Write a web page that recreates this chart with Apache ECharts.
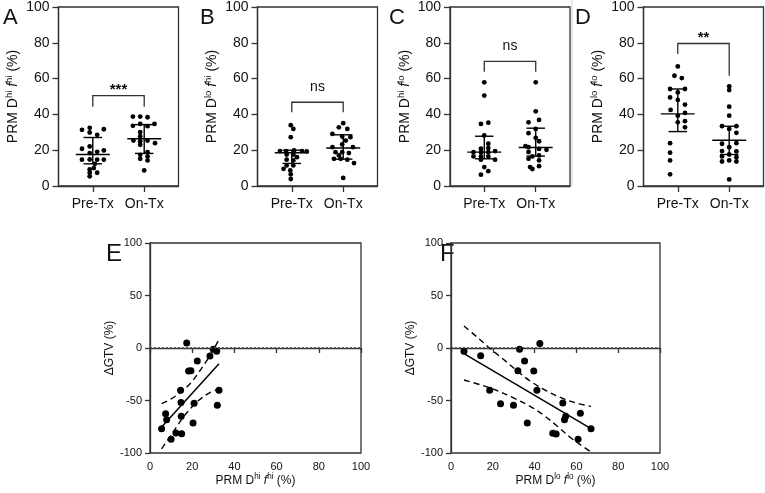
<!DOCTYPE html>
<html>
<head>
<meta charset="utf-8">
<script src="https://cdn.jsdelivr.net/npm/echarts@6/dist/echarts.min.js"></script>
<style>
  html, body { margin: 0; padding: 0; background: #fff; }
  #main { width: 765px; height: 493px; }
</style>
</head>
<body>
<div id="main"></div>
<script>
// ---- data ----
var groups = ['Pre-Tx', 'On-Tx']
var panelLetters = ['A', 'B', 'C', 'D', 'E', 'F']

// top row: dot values (%) and small horizontal jitter (in category units)
var aPre = [31.4, 32.5, 29.9, 28.6, 31.7, 20.8, 22.1, 19.1, 19.9, 18.4, 14.7, 14.8, 14.7, 14.7, 12.4, 9.3, 10.0, 7.4, 7.4, 5.4]
var aPreDx = [-0.21, -0.06, -0.06, 0.085, 0.215, -0.21, -0.06, 0.085, 0.215, -0.06, -0.21, -0.06, 0.085, 0.215, 0.04, -0.06, 0.02, -0.06, 0.085, -0.06]
var aOn = [38.8, 38.8, 38.4, 33.6, 34.7, 33.4, 34.7, 30.1, 27.8, 25.4, 25.0, 25.4, 23.9, 23.0, 18.9, 17.4, 16.5, 15.2, 14.3, 8.7]
var aOnDx = [-0.22, -0.078, 0.065, -0.22, -0.078, 0.065, 0.2, -0.078, -0.078, -0.21, -0.078, 0.065, 0.21, -0.078, 0.065, -0.078, 0.065, -0.078, 0.065, 0]

var bPre = [34.0, 31.9, 27.3, 19.5, 19.5, 19.9, 19.5, 19.3, 17.6, 17.6, 16.1, 14.7, 14.3, 11.5, 11.5, 9.6, 8.7, 6.5, 3.9]
var bPreDx = [-0.02, 0.03, -0.02, -0.23, -0.11, 0.045, 0.2, 0.29, -0.1, 0.03, 0.1, -0.1, 0.03, -0.1, 0.03, -0.16, -0.03, -0.02, -0.02]
var bOn = [35.1, 32.8, 31.9, 29.1, 27.6, 27.3, 25.4, 23.2, 21.7, 21.7, 18.9, 18.9, 18.4, 17.1, 15.2, 15.2, 14.7, 12.8, 4.5]
var bOnDx = [0, -0.085, 0.08, -0.21, -0.02, 0.14, 0.05, -0.02, -0.21, 0.19, -0.02, -0.15, 0.11, -0.085, -0.18, -0.05, 0.08, 0.21, 0]

var cPre = [57.9, 50.5, 34.7, 35.4, 28.2, 23.6, 20.8, 21.2, 18.9, 18.9, 18.9, 19.5, 16.5, 16.5, 16.5, 14.7, 14.7, 10.6, 8.3, 6.3]
var cPreDx = [0, 0, -0.065, 0.078, 0, 0.078, -0.065, 0.078, -0.21, -0.065, 0.078, 0.21, -0.21, -0.065, 0.078, -0.065, 0.21, 0, 0.078, -0.065]
var cOn = [57.9, 41.7, 36.9, 35.6, 31.9, 29.5, 26.9, 25.0, 22.3, 21.7, 20.7, 20.2, 19.0, 17.1, 16.5, 15.2, 14.3, 11.1, 10.6, 9.5]
var cOnDx = [0, 0, 0.065, -0.14, 0, -0.14, 0, 0.065, -0.2, -0.14, 0.065, 0.21, -0.14, 0.065, -0.065, -0.14, 0.065, 0.065, -0.11, -0.065]

var dPre = [66.8, 61.6, 60.3, 54.2, 54.2, 52.3, 49.5, 48.1, 45.5, 42.5, 40.8, 39.3, 36.2, 35.6, 32.8, 23.9, 18.6, 14.3, 6.5]
var dPreDx = [0, -0.065, 0.078, -0.15, 0.14, 0, -0.15, 0, 0.14, -0.14, 0.14, 0, 0.14, 0, 0.14, -0.15, -0.15, -0.15, -0.15]
var dOn = [55.7, 53.6, 44.3, 39.3, 33.4, 33.4, 31.9, 29.7, 23.6, 23.9, 21.7, 19.5, 19.3, 17.6, 16.5, 16.1, 13.7, 14.3, 13.7, 3.7]
var dOnDx = [0, 0, 0, 0, -0.14, 0.14, 0, 0.14, -0.14, 0.14, 0, -0.14, 0.14, 0, -0.14, 0.14, -0.14, 0, 0.14, 0]

// median, lower and upper bar for [Pre, On] in each panel
var statsA = [[17.6, 12.4, 27.1], [26.4, 18.2, 34.3]]
var statsB = [[18.6, 12.6, 20.0], [21.2, 15.0, 28.6]]
var statsC = [[18.9, 15.2, 27.8], [21.5, 16.7, 32.3]]
var statsD = [[40.3, 30.4, 54.2], [25.6, 17.6, 33.4]]

// significance brackets
var bracketTop = [50.5, 46.8, 69.6, 79.6]
var bracketLegPre = [44.3, 41.2, 63.8, 73.7]
var bracketLegOn = [44.3, 41.2, 63.8, 61.6]
var bracketText = ['***', 'ns', 'ns', '**']

var topNames = [['hi', 'hi'], ['lo', 'hi'], ['hi', 'lo'], ['lo', 'lo']]

// bottom row: PRM (%) vs change in GTV (%)
var eX = [5.5, 7.4, 7.9, 10.0, 12.3, 15.0, 14.8, 14.7, 14.5, 17.4, 18.3, 19.4, 20.4, 20.9, 22.4, 28.4, 30.0, 31.6, 31.9, 32.7]
var eY = [-76.8, -62.5, -68.3, -87.0, -81.0, -81.6, -65.0, -52.0, -40.3, 4.8, -21.9, -21.6, -71.4, -52.7, -12.4, -7.6, -1.3, -3.2, -54.6, -40.3]
var eFit = [[5.5, -75.2], [32.7, -14.9]]
var eUpper = [[5.5, -53], [10, -48.5], [15, -41.5], [19, -34], [23, -23.5], [28, -8.5], [32.7, 7.9]]
var eLower = [[5.5, -96], [10, -83], [15, -68], [19, -58], [23, -50], [28, -43], [32.7, -39]]

var fX = [6.2, 14.2, 18.5, 23.7, 29.9, 32.0, 32.8, 35.2, 36.5, 39.6, 41.1, 42.5, 48.7, 50.3, 53.5, 54.3, 54.9, 61.9, 60.8, 67.0]
var fY = [-3.2, -7.3, -40.3, -53.0, -54.6, -21.6, -1.3, -12.4, -71.4, -21.9, -40.3, 4.4, -81.3, -81.9, -52.4, -68.3, -65.0, -62.2, -87.0, -76.8]
var fFit = [[6.2, -5.4], [67, -76.8]]
var fUpper = [[6.2, 21], [12.4, 10.5], [18.8, -0.6], [25.2, -11], [31.5, -21.5], [37.9, -31.5], [45.9, -41], [53.8, -48.3], [60.2, -52.5], [67, -55.6]]
var fLower = [[6.2, -30.5], [14, -35], [22, -40.5], [29.9, -47.5], [37.9, -55.5], [44.3, -64], [50.6, -74], [57, -85], [61.8, -92], [67, -99]]

// ---- chart ----
var FONT = '"Liberation Sans", Arial, sans-serif'
var AX = '#333'

var myChart = echarts.init(document.getElementById('main'))

function zipDx(vals, dx, c) {
  return vals.map(function (v, i) { return [c + dx[i], v] })
}

function nameRich(d, f, size) {
  return {
    text: '{n|PRM D}{s|' + d + '}{n| }{i|f}{s|' + f + '}{n| (%)}',
    rich: {
      n: { fontSize: size, fontFamily: FONT, color: '#111', lineHeight: size + 4 },
      i: { fontSize: size, fontFamily: FONT, color: '#111', fontStyle: 'italic', lineHeight: size + 4 },
      s: { fontSize: size * 0.68, fontFamily: FONT, color: '#111', verticalAlign: 'top', lineHeight: size * 0.7 }
    }
  }
}

function statsItem(params, api) {
  var c = api.value(0), med = api.value(1), lo = api.value(2), hi = api.value(3)
  var st = { stroke: '#000', lineWidth: 1.4 }
  function seg(x1, y1, x2, y2) {
    var a = api.coord([x1, y1]), b = api.coord([x2, y2])
    return { type: 'line', shape: { x1: a[0], y1: a[1], x2: b[0], y2: b[1] }, style: st }
  }
  return {
    type: 'group',
    children: [
      seg(c - 0.33, med, c + 0.33, med),
      seg(c, lo, c, hi),
      seg(c - 0.18, lo, c + 0.18, lo),
      seg(c - 0.18, hi, c + 0.18, hi)
    ]
  }
}

var bracketIdx = {}
function bracketItem(params, api) {
  var top = api.value(1), lp = api.value(2), lo = api.value(3)
  var p1 = api.coord([1, lp]), p2 = api.coord([1, top]), p3 = api.coord([2, top]), p4 = api.coord([2, lo])
  var txt = bracketText[bracketIdx[params.seriesIndex]]
  var isStar = txt.indexOf('*') >= 0
  return {
    type: 'group',
    children: [
      { type: 'polyline', shape: { points: [p1, p2, p3, p4] }, style: { stroke: AX, lineWidth: 1.3, fill: null } },
      {
        type: 'text',
        x: (p2[0] + p3[0]) / 2,
        y: p2[1] - (isStar ? 6 : 15),
        style: {
          text: txt, align: 'center', verticalAlign: 'middle',
          font: (isStar ? 'bold 15px ' : '14px ') + FONT, fill: '#111'
        }
      }
    ]
  }
}

var gridsTop = [
  { left: 58.5, top: 6, width: 120, height: 180 },
  { left: 257.5, top: 6, width: 120, height: 180 },
  { left: 450, top: 6, width: 120, height: 180 },
  { left: 643.5, top: 6, width: 120, height: 180 }
]
var gridsBottom = [
  { left: 150, top: 243, width: 211, height: 210 },
  { left: 451, top: 243, width: 209, height: 210 }
]

var grid = [], xAxis = [], yAxis = [], series = []
var topData = [
  [aPre, aPreDx, aOn, aOnDx, statsA],
  [bPre, bPreDx, bOn, bOnDx, statsB],
  [cPre, cPreDx, cOn, cOnDx, statsC],
  [dPre, dPreDx, dOn, dOnDx, statsD]
]

topData.forEach(function (td, k) {
  var g = gridsTop[k]
  grid.push({ left: g.left, top: g.top, width: g.width, height: g.height, show: true, borderColor: AX, borderWidth: 1.3 })
  var nm = nameRich(topNames[k][0], topNames[k][1], 14)
  xAxis.push({
    type: 'value', gridIndex: k, min: 1 / 3, max: 8 / 3,
    axisLine: { lineStyle: { color: AX, width: 1.3 } },
    axisTick: { show: true, customValues: [1, 2], length: 6, lineStyle: { color: AX, width: 1.3 } },
    axisLabel: {
      customValues: [1, 2], margin: 11, color: '#111', fontSize: 14, fontFamily: FONT,
      formatter: function (v) { return Math.round(v) === 1 ? groups[0] : groups[1] }
    },
    splitLine: { show: false }
  })
  yAxis.push({
    type: 'value', gridIndex: k, min: 0, max: 100, interval: 20,
    name: nm.text, nameLocation: 'middle', nameGap: 36, nameRotate: 90,
    nameTextStyle: { rich: nm.rich },
    axisLine: { show: true, lineStyle: { color: AX, width: 1.3 } },
    axisTick: { show: true, length: 6, lineStyle: { color: AX, width: 1.3 } },
    axisLabel: { margin: 9, color: '#111', fontSize: 14, fontFamily: FONT },
    splitLine: { show: false }
  })
  series.push({
    type: 'scatter', xAxisIndex: k, yAxisIndex: k, symbolSize: 4.8,
    itemStyle: { color: '#000', opacity: 1 }, data: zipDx(td[0], td[1], 1), silent: true
  })
  series.push({
    type: 'scatter', xAxisIndex: k, yAxisIndex: k, symbolSize: 4.8,
    itemStyle: { color: '#000', opacity: 1 }, data: zipDx(td[2], td[3], 2), silent: true
  })
  series.push({
    type: 'custom', xAxisIndex: k, yAxisIndex: k, renderItem: statsItem, silent: true,
    encode: { x: 0, y: [1, 2, 3] },
    data: [[1].concat(td[4][0]), [2].concat(td[4][1])], z: 3
  })
  bracketIdx[series.length] = k
  series.push({
    type: 'custom', xAxisIndex: k, yAxisIndex: k, renderItem: bracketItem, silent: true,
    encode: { x: 0, y: [1, 2, 3] },
    data: [[1.5, bracketTop[k], bracketLegPre[k], bracketLegOn[k]]]
  })
})

var bottomData = [
  [eX, eY, eFit, eUpper, eLower, ['hi', 'hi']],
  [fX, fY, fFit, fUpper, fLower, ['lo', 'lo']]
]
bottomData.forEach(function (bd, j) {
  var k = 4 + j
  var g = gridsBottom[j]
  grid.push({ left: g.left, top: g.top, width: g.width, height: g.height, show: true, borderColor: AX, borderWidth: 1.3 })
  var nm = nameRich(bd[5][0], bd[5][1], 12)
  xAxis.push({
    type: 'value', gridIndex: k, min: 0, max: 100, interval: 20,
    name: nm.text, nameLocation: 'middle', nameGap: 18,
    nameTextStyle: { rich: nm.rich },
    axisLine: { lineStyle: { color: AX, width: 1.3 } },
    axisTick: { show: true, length: 5, lineStyle: { color: AX, width: 1.3 } },
    axisLabel: { margin: 8, color: '#111', fontSize: 11, fontFamily: FONT },
    splitLine: { show: false }
  })
  yAxis.push({
    type: 'value', gridIndex: k, min: -100, max: 100, interval: 50,
    name: 'ΔGTV (%)', nameLocation: 'middle', nameGap: 30, nameRotate: 90,
    nameTextStyle: { fontSize: 12, fontFamily: FONT, color: '#111' },
    axisLine: { show: true, lineStyle: { color: AX, width: 1.3 } },
    axisTick: { show: true, length: 5, lineStyle: { color: AX, width: 1.3 } },
    axisLabel: { margin: 8, color: '#111', fontSize: 11, fontFamily: FONT },
    splitLine: { show: false }
  })
  series.push({
    type: 'scatter', xAxisIndex: k, yAxisIndex: k, symbolSize: 7, silent: true,
    itemStyle: { color: '#000', opacity: 1 },
    data: bd[0].map(function (x, i) { return [x, bd[1][i]] }),
    markLine: {
      silent: true, symbol: 'none', label: { show: false },
      lineStyle: { color: '#444', type: [2, 2], width: 1.5 },
      data: [{ yAxis: 0 }]
    },
    z: 4
  })
  series.push({
    type: 'line', xAxisIndex: k, yAxisIndex: k, data: bd[2], symbol: 'none', silent: true,
    lineStyle: { color: '#000', width: 1.5 }
  })
  series.push({
    type: 'line', xAxisIndex: k, yAxisIndex: k, data: bd[3], symbol: 'none', silent: true, smooth: 0.35,
    lineStyle: { color: '#000', width: 1.4, type: [6, 4] }
  })
  series.push({
    type: 'line', xAxisIndex: k, yAxisIndex: k, data: bd[4], symbol: 'none', silent: true, smooth: 0.35,
    lineStyle: { color: '#000', width: 1.4, type: [6, 4] }
  })
})

var letterPos = [[3, 7], [200, 7], [389, 7], [575, 7], [106, 242], [440, 242]]
var graphic = letterPos.map(function (p, i) {
  return {
    type: 'text', left: p[0], top: p[1],
    style: { text: panelLetters[i], font: (i < 4 ? '22px ' : '24px ') + FONT, fill: '#111' }
  }
})
// faint frame edge at the left of panel D in the source image
graphic.push({ type: 'line', shape: { x1: 572, y1: 0, x2: 572, y2: 186 }, style: { stroke: '#cfcfcf', lineWidth: 1 } })

var option = {
  backgroundColor: '#fff',
  animation: false,
  grid: grid,
  xAxis: xAxis,
  yAxis: yAxis,
  series: series,
  graphic: graphic
}
myChart.setOption(option)
</script>
</body>
</html>
